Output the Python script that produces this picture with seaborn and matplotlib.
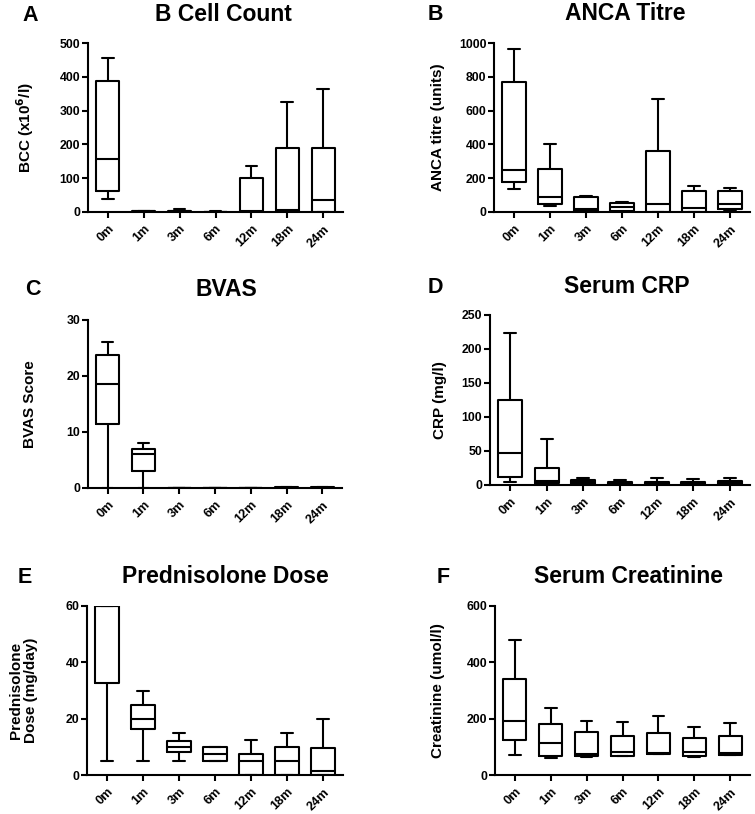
import pandas as pd
import matplotlib
matplotlib.use("Agg")
import matplotlib.pyplot as plt
import seaborn as sns


MONTHS = ["0m", "1m", "3m", "6m", "12m", "18m", "24m"]

# five-number summaries per time point: (min, q1, median, q3, max)
bcc_stats = [(37, 63, 157, 387, 456), (0, 1, 2, 3, 4), (0, 1, 2, 4, 10),
             (0, 0, 1, 1, 2), (0, 1, 2, 100, 135), (0, 2, 5, 188, 326),
             (0, 0, 35, 188, 363)]
anca_stats = [(137, 178, 250, 768, 962), (35, 45, 90, 257, 405), (0, 5, 18, 90, 95),
              (0, 8, 30, 53, 58), (0, 0, 48, 362, 667), (0, 0, 22, 125, 152),
              (10, 20, 50, 122, 140)]
bvas_stats = [(0, 11.5, 18.5, 23.8, 26), (0, 3, 6, 7, 8), (0, 0, 0, 0, 0),
              (0, 0, 0, 0, 0), (0, 0, 0, 0, 0), (0, 0, 0, 0.1, 0.15),
              (0, 0, 0, 0.1, 0.15)]
crp_stats = [(5, 12, 47, 125, 223), (1, 3, 6, 25, 67), (1, 2, 4, 7, 10),
             (1, 1, 3, 5, 7), (0, 1, 3, 5, 11), (0, 1, 3, 5, 9),
             (0, 1, 3, 6, 10)]
pred_stats = [(5, 32.5, 60, 60, 60), (5, 16.25, 20, 25, 30), (5, 8, 10, 12, 15),
              (5, 5, 7.5, 10, 10), (0, 0, 5, 7.5, 12.5), (0, 0, 5, 10, 15),
              (0, 0, 1.25, 9.5, 20)]
creat_stats = [(70, 125, 193, 342, 478), (62, 67, 112, 180, 238), (65, 67, 75, 152, 190),
               (66, 68, 80, 140, 188), (73, 75, 78, 150, 210), (65, 67, 82, 130, 170),
               (70, 72, 78, 137, 186)]

W, H = 755, 814


def long_df(stats):
    rows = [(m, v) for m, s in zip(MONTHS, stats) for v in s]
    return pd.DataFrame(rows, columns=["month", "value"])


sns.set_style("ticks")
plt.rcParams["font.family"] = ["Liberation Sans", "DejaVu Sans"]
plt.rcParams["font.weight"] = "bold"
plt.rcParams["axes.labelweight"] = "bold"
for key in ["text.color", "axes.labelcolor", "xtick.color", "ytick.color",
            "axes.edgecolor"]:
    plt.rcParams[key] = "black"

fig = plt.figure(figsize=(W / 100, H / 100), dpi=100)

# letter, title, ylabel, stats, ymax, ystep, (left, right, top, bottom) px,
# ylabel offset px, title (x, y) px, letter (x, y) px
panels = [
    ("A", "B Cell Count", "BCC (x10$^{\\mathbf{6}}$/l)", bcc_stats, 500, 100,
     (88, 343, 43, 212), 52, (223, 21), (22, 21)),
    ("B", "ANCA Titre", "ANCA titre (units)", anca_stats, 1000, 200,
     (494, 750, 43, 212), 49, (625, 20), (428, 20)),
    ("C", "BVAS", "BVAS Score", bvas_stats, 30, 10,
     (88, 342, 320, 488), 51, (226, 296), (25, 295)),
    ("D", "Serum CRP", "CRP (mg/l)", crp_stats, 250, 50,
     (490, 750, 315, 485), 43, (627, 293), (428, 293)),
    ("E", "Prednisolone Dose", "Prednisolone\nDose (mg/day)", pred_stats, 60, 20,
     (87, 343, 606, 775), 49, (225, 583), (18, 583)),
    ("F", "Serum Creatinine", "Creatinine (umol/l)", creat_stats, 600, 200,
     (495, 750, 606, 775), 50, (629, 583), (437, 583)),
]

for letter, title, ylabel, stats, ymax, ystep, rect, loff, tpos, lpos in panels:
    l, r, t, b = rect
    ax = fig.add_axes([l / W, 1 - b / H, (r - l) / W, (b - t) / H])
    df = long_df(stats)
    sns.boxplot(data=df, x="month", y="value", order=MONTHS, whis=(0, 100),
                fill=False, color="black", linewidth=1.5, width=0.65, ax=ax)
    ax.set_xlim(-0.55, 6.55)
    ax.set_ylim(0, ymax)
    ax.set_yticks(range(0, ymax + 1, ystep))
    ax.set_xlabel("")
    ax.set_ylabel(ylabel, fontsize=11, fontweight="bold", linespacing=1.1)
    ax.yaxis.set_label_coords(-loff / (r - l), 0.5)
    sns.despine(ax=ax)
    for s in ["left", "bottom"]:
        ax.spines[s].set_linewidth(1.5)
    ax.tick_params(axis="both", direction="out", length=4, width=1.5,
                   labelsize=8.8, pad=1.5)
    ax.tick_params(axis="x", pad=4)
    for lab in ax.get_xticklabels():
        lab.set_rotation(45)
        lab.set_ha("right")
        lab.set_va("top")
        lab.set_rotation_mode("anchor")
        lab.set_fontweight("bold")
        lab.set_fontsize(9.2)
    for lab in ax.get_yticklabels():
        lab.set_fontweight("bold")
    fig.text(tpos[0] / W, 1 - tpos[1] / H, title, ha="center", va="baseline",
             fontsize=16.5, fontweight="bold")
    fig.text(lpos[0] / W, 1 - lpos[1] / H, letter, ha="left", va="baseline",
             fontsize=15.5, fontweight="bold")

fig.savefig("out.png", dpi=100)
